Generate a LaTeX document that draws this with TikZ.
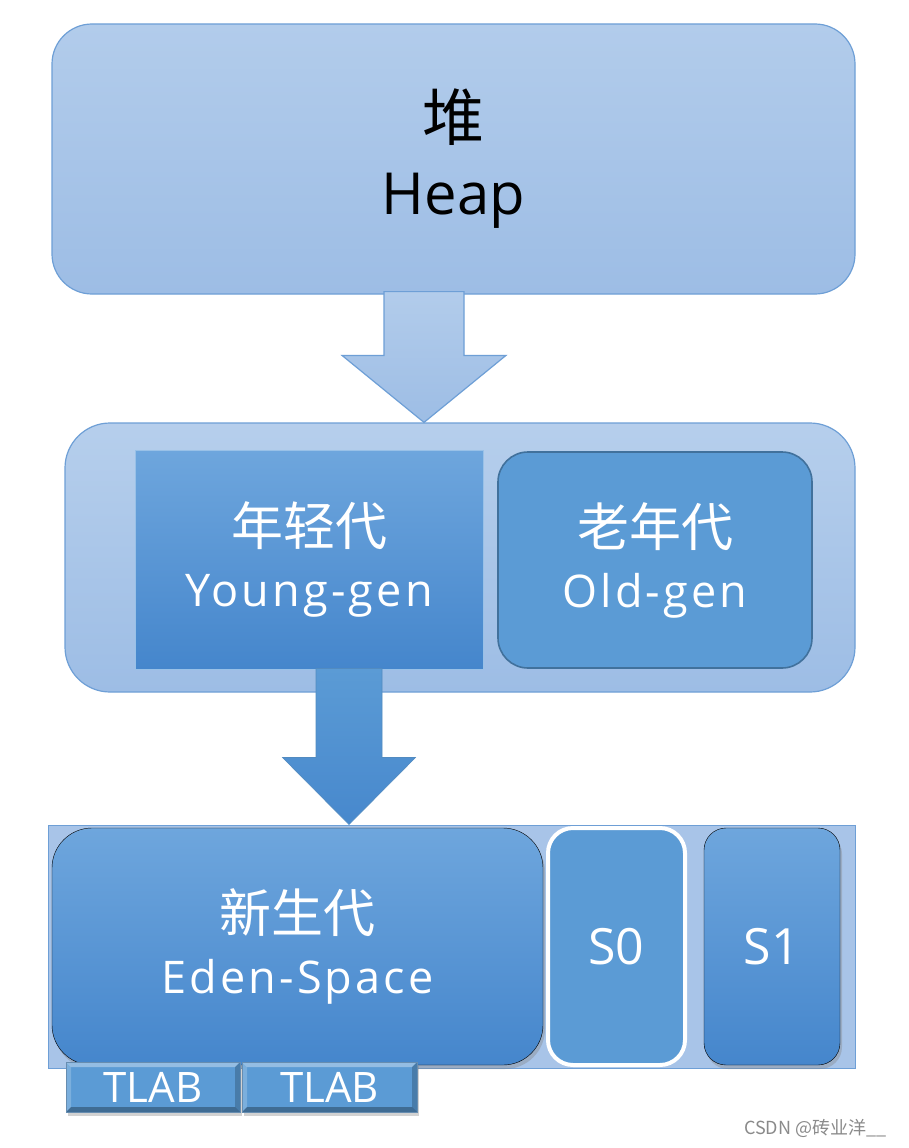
\documentclass[tikz,border=0pt]{standalone}
\usepackage{fontspec}
\setmainfont{Open Sans}
\newfontfamily\cjk{Noto Sans CJK SC}
\newfontfamily\wide[LetterSpace=7]{Open Sans}
\usetikzlibrary{calc,shadows}

\definecolor{lineblue}{HTML}{6E9FD6}
\definecolor{paletop}{HTML}{B2CCEB}
\definecolor{palebot}{HTML}{9DBDE5}
\definecolor{palefill}{HTML}{A8C4E8}
\definecolor{midtop}{HTML}{6EA6DD}
\definecolor{midbot}{HTML}{4586CC}
\definecolor{flatblue}{HTML}{5B9BD5}
\definecolor{oldline}{HTML}{41719C}
\definecolor{markgray}{HTML}{8A8A8A}

\newcommand{\genlabel}[2]{{\cjk\fontsize{52pt}{60pt}\selectfont #1}\\{\wide #2}}

\begin{document}
\begin{tikzpicture}[x=1pt, y=-1pt,
  box/.style={draw, align=center, inner sep=0pt},
  outer/.style={box, draw=lineblue, line width=1.2pt},
  inner/.style={box, text=white, font={\fontsize{45pt}{61pt}\selectfont}},
  shade/.style={top color=midtop, bottom color=midbot},
  shadow/.style={drop shadow={shadow xshift=2pt, shadow yshift=-4pt, opacity=.35}},
  survivor/.style={inner, minimum width=137pt, minimum height=237pt, font={\fontsize{50pt}{60pt}\selectfont}},
  tlab/.style={box, draw=oldline!80, fill=flatblue, text=white, minimum width=175pt, minimum height=50pt,
    font={\fontsize{42pt}{50pt}\selectfont}, shadow,
    path picture={
      \fill[white, opacity=.35] (path picture bounding box.north west) -- (path picture bounding box.north east)
        -- ([shift={(-5pt,-5pt)}]path picture bounding box.north east) -- ([shift={(5pt,-5pt)}]path picture bounding box.north west) -- cycle;
      \fill[white, opacity=.2] (path picture bounding box.north west) -- ([shift={(5pt,-5pt)}]path picture bounding box.north west)
        -- ([shift={(5pt,5pt)}]path picture bounding box.south west) -- (path picture bounding box.south west) -- cycle;
      \fill[black, opacity=.3] (path picture bounding box.south west) -- (path picture bounding box.south east)
        -- ([shift={(-5pt,5pt)}]path picture bounding box.south east) -- ([shift={(5pt,5pt)}]path picture bounding box.south west) -- cycle;
      \fill[black, opacity=.2] (path picture bounding box.north east) -- ([shift={(-5pt,-5pt)}]path picture bounding box.north east)
        -- ([shift={(-5pt,5pt)}]path picture bounding box.south east) -- (path picture bounding box.south east) -- cycle;
    }},
  arrowlight/.style={draw=lineblue, line width=1.2pt, top color=paletop, bottom color=palebot, line join=miter},
  arrowdark/.style={draw=flatblue!90!black, line width=.6pt, top color=flatblue, bottom color=midbot!90!flatblue},
]
  \useasboundingbox[fill=white] (0,0) rectangle (908,1148);

  % heap
  \node[outer, top color=paletop, bottom color=palebot, rounded corners=40pt,
    minimum width=803pt, minimum height=270pt, font={\fontsize{58pt}{74pt}\selectfont}]
    (heap) at (453.5,159) {{\cjk\fontsize{62pt}{70pt}\selectfont 堆}\\Heap};

  % young + old generation
  \node[outer, top color=paletop!95!white, bottom color=palebot, rounded corners=45pt,
    minimum width=790pt, minimum height=269pt] (gens) at (460,557.5) {};
  \node[inner, shade, draw=midtop!70!white, line width=1pt, minimum width=348pt, minimum height=219pt]
    (young) at (309,559.5) {\genlabel{年轻代}{Young-gen}};
  \node[inner, fill=flatblue, draw=oldline, line width=1.6pt, rounded corners=30pt,
    minimum width=314pt, minimum height=216pt]
    (old) at (655,560) {\genlabel{老年代}{Old-gen}};

  % eden + survivors
  \node[outer, fill=palefill, line width=1pt, minimum width=807pt, minimum height=243pt] (space) at (451.5,946.5) {};
  \node[inner, shade, shadow, rounded corners=40pt, minimum width=491pt, minimum height=237pt]
    (eden) at (297.5,946.5) {\genlabel{新生代}{Eden-Space}};
  \node[survivor, fill=flatblue, draw=white, line width=4pt, rounded corners=25pt] (s0) at (616.5,946.5) {S0};
  \node[survivor, shade, shadow, rounded corners=22pt, minimum width=136pt] (s1) at (772,946.5) {S1};

  \node[tlab, minimum width=174pt] (tlab1) at (153,1087) {TLAB};
  \node[tlab] (tlab2) at (329.5,1087) {TLAB};

  % block arrows
  \coordinate (tip1) at ($(gens.north)+(-36,0)$);
  \draw[arrowlight] ($(tip1 |- heap.south)+(-40,-3)$) |- ($(tip1)+(-82,-67)$) -- (tip1)
    -- ($(tip1)+(82,-67)$) -| ($(tip1 |- heap.south)+(40,-3)$) -- cycle;
  \coordinate (tip2) at ($(space.north)+(-102.5,0)$);
  \draw[arrowdark] ($(tip2 |- young.south)+(-33,-1)$) |- ($(tip2)+(-66.5,-67)$) -- (tip2)
    -- ($(tip2)+(66.5,-67)$) -| ($(tip2 |- young.south)+(33,-1)$) -- cycle;

  \node[anchor=east, text=markgray, font={\cjk\fontsize{18pt}{22pt}\selectfont}] (mark) at (890,1128) {CSDN @砖业洋\_\_};
\end{tikzpicture}
\end{document}
